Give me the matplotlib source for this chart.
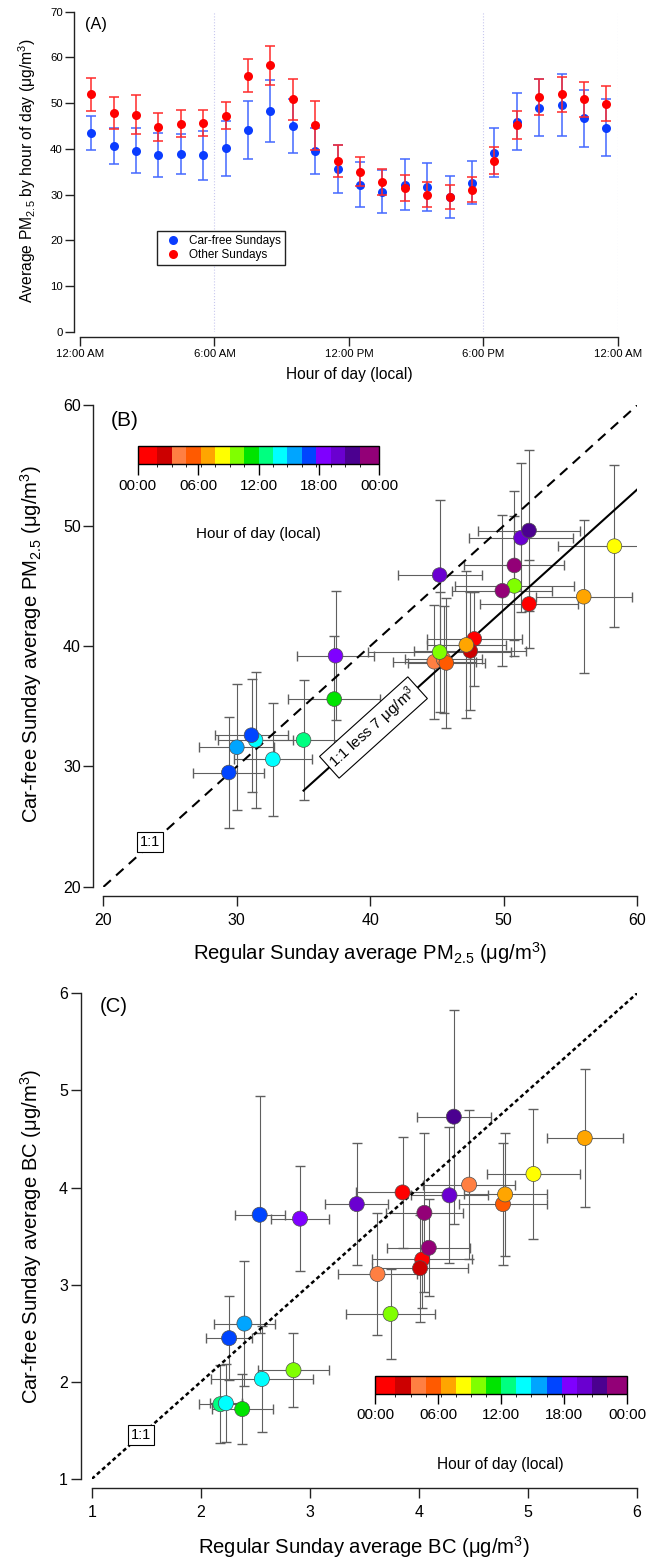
import numpy as np
import matplotlib
matplotlib.use('Agg')
import matplotlib.pyplot as plt
from matplotlib.colors import ListedColormap, BoundaryNorm
from matplotlib.lines import Line2D
from matplotlib.cm import ScalarMappable

plt.rcParams['font.family'] = ['Liberation Sans', 'DejaVu Sans']
plt.rcParams['mathtext.fontset'] = 'custom'
plt.rcParams['mathtext.rm'] = 'Liberation Sans'
plt.rcParams['mathtext.it'] = 'Liberation Sans:italic'
plt.rcParams['mathtext.bf'] = 'Liberation Sans:bold'

# ---------------- data ----------------
hours = np.arange(24)
hour_mid = hours + 0.5
hour_tick_values = [0, 6, 12, 18, 24]
hour_tick_labels_A = ['12:00 AM', '6:00 AM', '12:00 PM', '6:00 PM', '12:00 AM']
hour_tick_labels_cb = ['00:00', '06:00', '12:00', '18:00', '00:00']

carfree_pm = [43.5, 40.6, 39.6, 38.7, 38.9, 38.6, 40.1, 44.1, 48.3, 45.0, 39.5, 35.6,
              32.2, 30.6, 32.2, 31.6, 29.5, 32.6, 39.2, 45.9, 49.0, 49.6, 46.7, 44.6]
carfree_pm_err = [3.65, 3.9, 4.9, 4.75, 4.45, 5.4, 6.1, 6.35, 6.75, 5.8, 5.0, 5.25,
                  4.95, 4.7, 5.65, 5.25, 4.6, 4.7, 5.35, 6.25, 6.2, 6.7, 6.2, 6.25]
other_pm = [51.9, 47.8, 47.5, 44.8, 45.5, 45.7, 47.2, 56.0, 58.3, 50.8, 45.2, 37.3,
            35.0, 32.7, 31.4, 30.0, 29.4, 31.1, 37.4, 45.2, 51.3, 51.9, 50.8, 49.9]
other_pm_err = [3.65, 3.55, 4.2, 3.1, 2.9, 2.9, 2.95, 3.6, 4.25, 4.45, 5.35, 3.45,
                3.2, 2.9, 2.8, 2.8, 2.65, 2.7, 2.9, 3.15, 3.9, 3.85, 3.75, 3.75]

regular_bc = [3.85, 4.03, 4.01, 3.62, 4.46, 4.77, 4.79, 5.52, 5.05, 3.74, 2.85, 2.38,
              2.18, 2.56, 2.23, 2.40, 2.26, 2.54, 2.91, 3.43, 4.28, 4.32, 4.05, 4.09]
regular_bc_err = [0.43, 0.46, 0.44, 0.36, 0.42, 0.40, 0.38, 0.35, 0.43, 0.41, 0.33, 0.28,
                  0.20, 0.47, 0.15, 0.28, 0.21, 0.23, 0.27, 0.29, 0.35, 0.34, 0.35, 0.38]
carfree_bc = [3.95, 3.26, 3.17, 3.11, 4.03, 3.83, 3.93, 4.51, 4.14, 2.70, 2.12, 1.72,
              1.77, 2.03, 1.78, 2.60, 2.45, 3.72, 3.68, 3.83, 3.92, 4.73, 3.74, 3.38]
carfree_bc_err = [0.57, 0.50, 0.55, 0.63, 0.77, 0.63, 0.63, 0.71, 0.67, 0.46, 0.38, 0.36,
                  0.40, 0.55, 0.40, 0.64, 0.43, 1.22, 0.54, 0.63, 0.70, 1.10, 0.82, 0.50]

hour_colors = ['#FF0000', '#CC0000', '#FF7F42', '#FF5A00', '#FFA500', '#FFFF00',
               '#80FF00', '#00E400', '#00FF80', '#00FFFF', '#00A5FF', '#0045FF',
               '#7F00FF', '#6A00D0', '#4B0090', '#930077']

# ---------------- figure ----------------
W, H = 656, 1560
fig = plt.figure(figsize=(W / 100, H / 100), dpi=100)


def fx(x):
    return x / W


def fy(y):
    return 1 - y / H


def ax_rect(x0, y0, x1, y1):
    return [fx(x0), fy(y1), (x1 - x0) / W, (y1 - y0) / H]


cmap = ListedColormap(hour_colors)
inner = list(np.linspace(0.5, 23.5, len(hour_colors) + 1)[1:-1])
bounds = [0.0] + inner + [24.0]
norm = BoundaryNorm(bounds, cmap.N)


def style_axes(ax, left_out, bottom_out, lo, hi, ticklen, labelsize, xpad, ypad):
    ax.spines['top'].set_visible(False)
    ax.spines['right'].set_visible(False)
    ax.spines['left'].set_position(('outward', left_out))
    ax.spines['bottom'].set_position(('outward', bottom_out))
    ax.spines['left'].set_bounds(*lo)
    ax.spines['bottom'].set_bounds(*hi)
    for s in ('left', 'bottom'):
        ax.spines[s].set_linewidth(1.0)
        ax.spines[s].set_color('#222222')
    ax.tick_params(direction='out', length=ticklen, width=1.0, color='#222222',
                   labelsize=labelsize)
    ax.tick_params(axis='x', pad=xpad)
    ax.tick_params(axis='y', pad=ypad)


# ---------------- Panel A ----------------
axA = fig.add_axes(ax_rect(80, 11.7, 617.7, 331.7))
for xv in [6, 18, 24]:
    axA.axvline(xv, color='#C8C8EE', lw=0.8, ls=':', zorder=0)
axA.errorbar(hour_mid, carfree_pm, yerr=carfree_pm_err, fmt='o', color='#0A3CFF',
             ecolor='#4468FF', elinewidth=1.1, capsize=3.3, capthick=1.1, ms=6.5,
             mec='none', zorder=2)
axA.errorbar(hour_mid, other_pm, yerr=other_pm_err, fmt='o', color='#FF0000',
             ecolor='#FF2A2A', elinewidth=1.1, capsize=3.3, capthick=1.1, ms=6.5,
             mec='none', zorder=3)
axA.set_xlim(0, 24)
axA.set_ylim(0, 70)
axA.set_xticks(hour_tick_values)
axA.set_xticklabels(hour_tick_labels_A)
axA.set_yticks(range(0, 71, 10))
style_axes(axA, 4.3, 3.6, (0, 70), (0, 24), 6.5, 8.2, 2.5, 1.5)

handles = [Line2D([], [], ls='none', marker='o', color='#0A3CFF', ms=6.5, mec='none'),
           Line2D([], [], ls='none', marker='o', color='#FF0000', ms=6.5, mec='none')]
leg = axA.legend(handles, ['Car-free Sundays', 'Other Sundays'], loc='upper left',
                 bbox_to_anchor=(fx(157), fy(231)), bbox_transform=fig.transFigure,
                 frameon=True, fancybox=False, edgecolor='#222222', framealpha=1,
                 fontsize=8.5, handlelength=2.0, handletextpad=0.4, borderpad=0.35,
                 labelspacing=0.15, borderaxespad=0)
leg.get_frame().set_linewidth(1.0)

fig.text(fx(95.7), fy(24), '(A)', fontsize=11.7, ha='center', va='center')
fig.text(fx(27), fy(171), r'Average PM$_{2.5}$ by hour of day (μg/m$^3$)',
         rotation=90, fontsize=11.3, ha='center', va='center')
fig.text(fx(349), fy(375), 'Hour of day (local)', fontsize=11.2, ha='center', va='center')

# ---------------- Panel B ----------------
axB = fig.add_axes(ax_rect(103.4, 405.3, 637.1, 886.9))
axB.set_xlim(20, 60)
axB.set_ylim(20, 60)
axB.plot([20, 60], [20, 60], color='black', lw=1.5, ls=(0, (4.8, 3.4)), zorder=2)
axB.plot([35, 60], [35 - 7, 60 - 7], color='black', lw=1.5, zorder=2)
axB.errorbar(other_pm, carfree_pm, xerr=other_pm_err, yerr=carfree_pm_err, fmt='none',
             ecolor='#5f5f5f', elinewidth=0.8, capsize=3.6, capthick=1.0, zorder=1)
axB.scatter(other_pm, carfree_pm, c=hour_mid, cmap=cmap, norm=norm, s=112,
            edgecolors='#505050', linewidths=0.5, zorder=3)
axB.set_xticks(range(20, 61, 10))
axB.set_yticks(range(20, 61, 10))
style_axes(axB, 7.2, 6.5, (20, 60), (20, 60), 7.0, 11.5, 5.0, 2.0)
axB.text(23.5, 23.7, '1:1', fontsize=10.5, ha='center', va='center', zorder=4,
         bbox=dict(boxstyle='square,pad=0.2', fc='white', ec='black', lw=0.8))
axB.text(40.24, 33.24, r'1:1 less 7 μg/m$^3$', fontsize=11, ha='center', va='center',
         rotation=45, transform_rotates_text=True, rotation_mode='anchor', zorder=4,
         bbox=dict(boxstyle='square,pad=0.25', fc='white', ec='black', lw=0.8))

caxB = fig.add_axes(ax_rect(137.7, 445.7, 379.3, 464))
cbB = fig.colorbar(ScalarMappable(norm=norm, cmap=cmap), cax=caxB,
                   orientation='horizontal', spacing='proportional',
                   ticks=hour_tick_values)
cbB.set_ticklabels(hour_tick_labels_cb)
cbB.outline.set_linewidth(1.0)
caxB.tick_params(direction='out', length=8, width=1.0, labelsize=11, pad=3)
fig.text(fx(258.7), fy(534), 'Hour of day (local)', fontsize=11, ha='center', va='center')

fig.text(fx(125), fy(420.7), '(B)', fontsize=15, ha='center', va='center')
fig.text(fx(31.5), fy(644), r'Car-free Sunday average PM$_{2.5}$ (μg/m$^3$)',
         rotation=90, fontsize=14.6, ha='center', va='center')
fig.text(fx(370), fy(953), r'Regular Sunday average PM$_{2.5}$ (μg/m$^3$)',
         fontsize=14.6, ha='center', va='center')

# ---------------- Panel C ----------------
axC = fig.add_axes(ax_rect(91.7, 993.3, 637.1, 1479))
axC.set_xlim(1, 6)
axC.set_ylim(1, 6)
axC.plot([1, 6], [1, 6], color='black', lw=1.8, ls=(0, (1.6, 1.2)), zorder=2)
axC.errorbar(regular_bc, carfree_bc, xerr=regular_bc_err, yerr=carfree_bc_err,
             fmt='none', ecolor='#5f5f5f', elinewidth=0.8, capsize=3.6, capthick=1.0,
             zorder=1)
axC.scatter(regular_bc, carfree_bc, c=hour_mid, cmap=cmap, norm=norm, s=118,
            edgecolors='#505050', linewidths=0.5, zorder=3)
axC.set_xticks(range(1, 7))
axC.set_yticks(range(1, 7))
style_axes(axC, 7.5, 6.5, (1, 6), (1, 6), 7.0, 11.5, 5.0, 2.5)
axC.text(1.45, 1.45, '1:1', fontsize=10.5, ha='center', va='center', zorder=4,
         bbox=dict(boxstyle='square,pad=0.2', fc='white', ec='black', lw=0.8))

caxC = fig.add_axes(ax_rect(375.1, 1376, 627.4, 1394))
cbC = fig.colorbar(ScalarMappable(norm=norm, cmap=cmap), cax=caxC,
                   orientation='horizontal', spacing='proportional',
                   ticks=hour_tick_values)
cbC.set_ticklabels(hour_tick_labels_cb)
cbC.outline.set_linewidth(1.0)
caxC.tick_params(direction='out', length=7, width=1.0, labelsize=11, pad=3)
fig.text(fx(500.4), fy(1464), 'Hour of day (local)', fontsize=11.2, ha='center', va='center')

fig.text(fx(113.5), fy(1006.7), '(C)', fontsize=14.6, ha='center', va='center')
fig.text(fx(31.5), fy(1236), r'Car-free Sunday average BC (μg/m$^3$)',
         rotation=90, fontsize=14.6, ha='center', va='center')
fig.text(fx(363.7), fy(1546.7), r'Regular Sunday average BC (μg/m$^3$)',
         fontsize=14.6, ha='center', va='center')

fig.savefig('out.png', dpi=100)
